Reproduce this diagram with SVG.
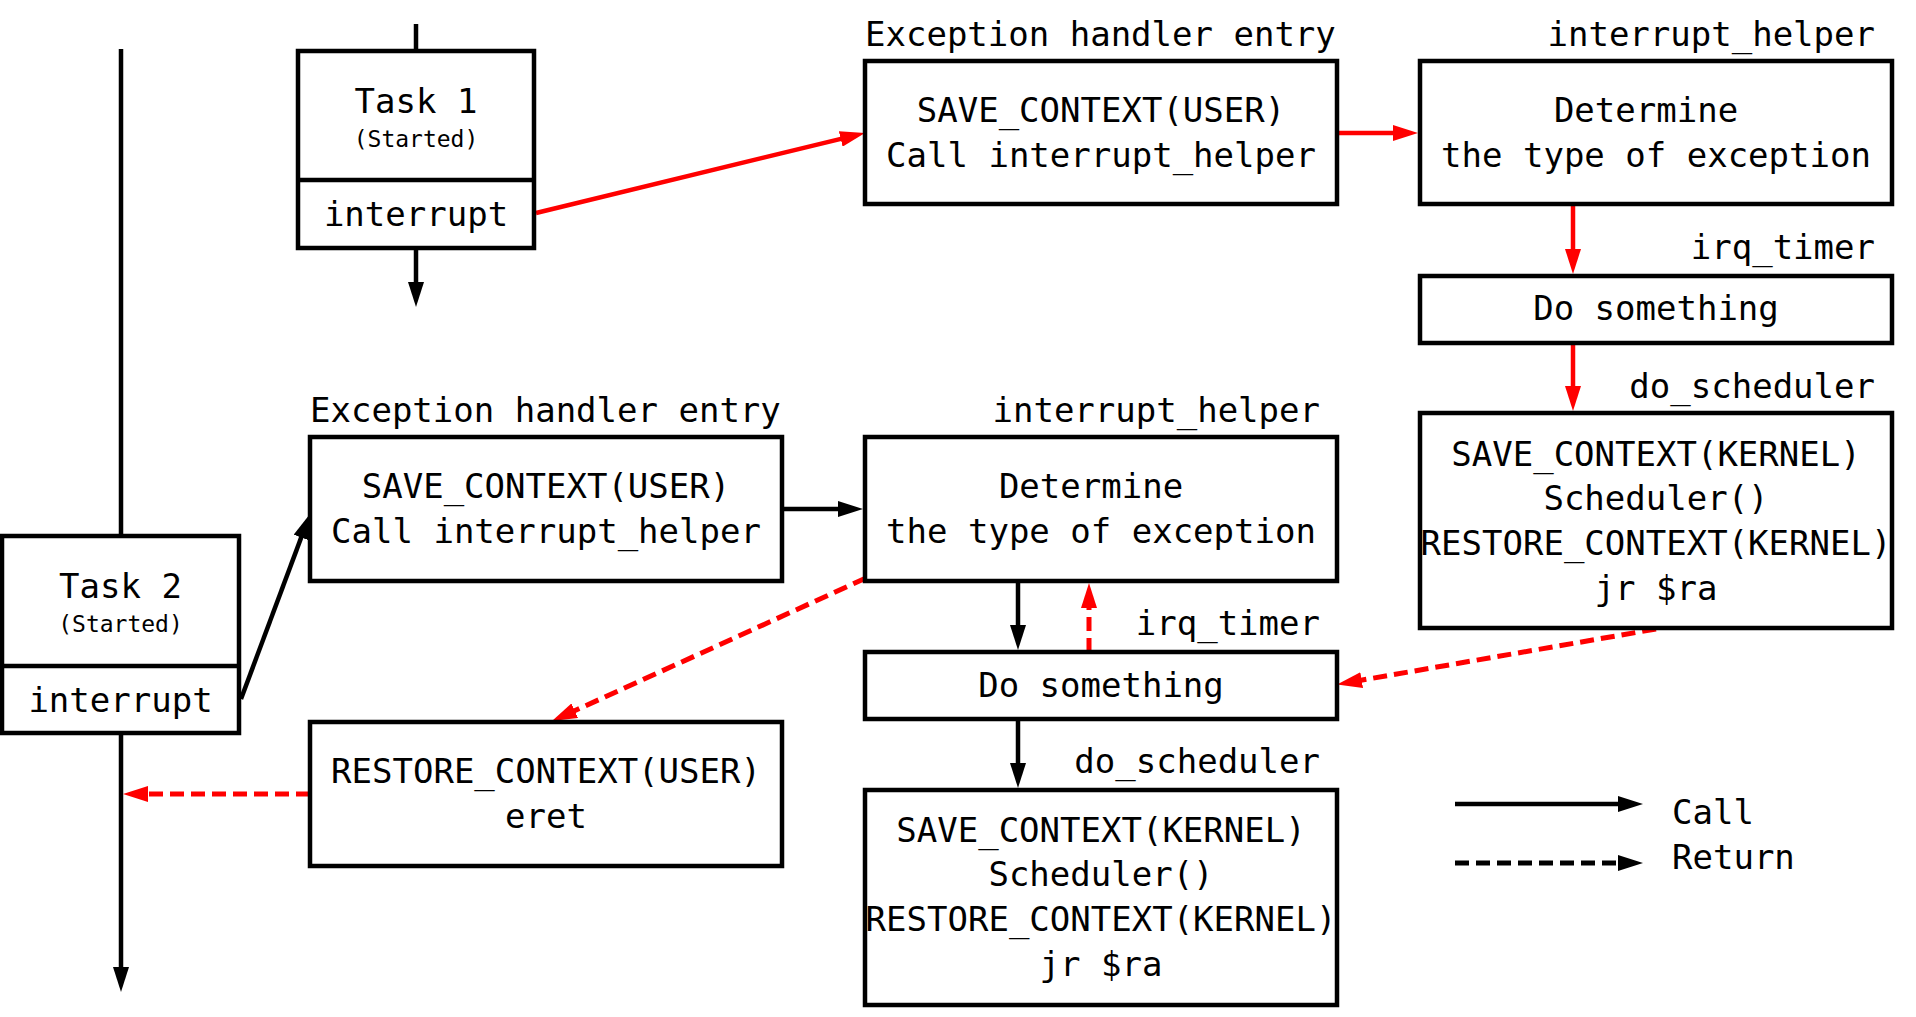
<svg xmlns="http://www.w3.org/2000/svg" width="1916" height="1017" viewBox="0 0 1916 1017">
  <style>
    .box { fill: #ffffff; stroke: #000000; stroke-width: 4.5; }
    .sep { stroke: #000000; stroke-width: 4.5; }
    text { font-family: "DejaVu Sans Mono", "Liberation Mono", monospace; font-size: 34px; fill: #000000; }
    .c { text-anchor: middle; }
    .r { text-anchor: end; }
    .small { font-size: 23px; }
    .call { fill: none; stroke: #000000; stroke-width: 4.5; }
    .call-red { fill: none; stroke: #ff0000; stroke-width: 4.5; }
    .ret { fill: none; stroke: #000000; stroke-width: 5; stroke-dasharray: 14 7; }
    .ret-red { fill: none; stroke: #ff0000; stroke-width: 5; stroke-dasharray: 14 7; }
  </style>
  <defs>
    <marker id="head-black" markerUnits="userSpaceOnUse" markerWidth="25" markerHeight="16" refX="14" refY="8" orient="auto" viewBox="0 0 25 16">
      <path d="M0,0 L25,8 L0,16 Z" fill="#000000"/>
    </marker>
    <marker id="head-red" markerUnits="userSpaceOnUse" markerWidth="25" markerHeight="16" refX="14" refY="8" orient="auto" viewBox="0 0 25 16">
      <path d="M0,0 L25,8 L0,16 Z" fill="#ff0000"/>
    </marker>
  </defs>

  <rect width="1916" height="1017" fill="#ffffff"/>

  <!-- connectors -->
  <g id="connectors">
    <!-- task 2 timeline -->
    <line class="call" x1="121" y1="49" x2="121" y2="536"/>
    <line class="call" x1="121" y1="733" x2="121" y2="981" marker-end="url(#head-black)"/>
    <!-- task 1 timeline -->
    <line class="call" x1="416" y1="24" x2="416" y2="50"/>
    <line class="call" x1="416" y1="248" x2="416" y2="296" marker-end="url(#head-black)"/>

    <!-- first interrupt (red path) -->
    <line class="call-red" x1="536" y1="213" x2="854.3" y2="135.6" marker-end="url(#head-red)"/>
    <line class="call-red" x1="1337" y1="133" x2="1407" y2="133" marker-end="url(#head-red)"/>
    <line class="call-red" x1="1573" y1="205" x2="1573" y2="263" marker-end="url(#head-red)"/>
    <line class="call-red" x1="1573" y1="343" x2="1573" y2="400" marker-end="url(#head-red)"/>
    <line class="ret-red" x1="1656" y1="629" x2="1347.9" y2="682.5" marker-end="url(#head-red)"/>
    <line class="ret-red" x1="1089" y1="652" x2="1089" y2="594" marker-end="url(#head-red)"/>
    <line class="ret-red" x1="866" y1="578" x2="562" y2="716.5" marker-end="url(#head-red)"/>
    <line class="ret-red" x1="310" y1="794" x2="134" y2="794" marker-end="url(#head-red)"/>

    <!-- second interrupt (black path) -->
    <line class="call" x1="241" y1="699" x2="306.1" y2="524.4" marker-end="url(#head-black)"/>
    <line class="call" x1="782" y1="509" x2="852" y2="509" marker-end="url(#head-black)"/>
    <line class="call" x1="1018" y1="581" x2="1018" y2="639" marker-end="url(#head-black)"/>
    <line class="call" x1="1018" y1="719" x2="1018" y2="777" marker-end="url(#head-black)"/>
  </g>

  <!-- tasks -->
  <g id="task1">
    <rect class="box" x="298" y="51" width="236" height="197"/>
    <line class="sep" x1="298" y1="180" x2="534" y2="180"/>
    <text class="c" x="416" y="113">Task 1</text>
    <text class="c small" x="416" y="147">(Started)</text>
    <text class="c" x="416" y="226">interrupt</text>
  </g>
  <g id="task2">
    <rect class="box" x="2" y="536" width="237" height="197"/>
    <line class="sep" x1="2" y1="666" x2="239" y2="666"/>
    <text class="c" x="120.5" y="598">Task 2</text>
    <text class="c small" x="120.5" y="632">(Started)</text>
    <text class="c" x="120.5" y="712">interrupt</text>
  </g>

  <!-- first interrupt handling -->
  <g id="entry1">
    <text x="865" y="46">Exception handler entry</text>
    <rect class="box" x="865" y="61" width="472" height="143"/>
    <text class="c" x="1101" y="122">SAVE_CONTEXT(USER)</text>
    <text class="c" x="1101" y="167">Call interrupt_helper</text>
  </g>
  <g id="helper1">
    <text class="r" x="1875" y="46">interrupt_helper</text>
    <rect class="box" x="1420" y="61" width="472" height="143"/>
    <text class="c" x="1646" y="122">Determine</text>
    <text class="c" x="1656" y="167">the type of exception</text>
  </g>
  <g id="timer1">
    <text class="r" x="1875" y="259">irq_timer</text>
    <rect class="box" x="1420" y="276" width="472" height="67"/>
    <text class="c" x="1656" y="320">Do something</text>
  </g>
  <g id="sched1">
    <text class="r" x="1875" y="398">do_scheduler</text>
    <rect class="box" x="1420" y="413" width="472" height="215"/>
    <text class="c" x="1656" y="466">SAVE_CONTEXT(KERNEL)</text>
    <text class="c" x="1656" y="510">Scheduler()</text>
    <text class="c" x="1656" y="555">RESTORE_CONTEXT(KERNEL)</text>
    <text class="c" x="1656" y="600">jr $ra</text>
  </g>

  <!-- second interrupt handling -->
  <g id="entry2">
    <text x="310" y="422">Exception handler entry</text>
    <rect class="box" x="310" y="437" width="472" height="144"/>
    <text class="c" x="546" y="498">SAVE_CONTEXT(USER)</text>
    <text class="c" x="546" y="543">Call interrupt_helper</text>
  </g>
  <g id="helper2">
    <text class="r" x="1320" y="422">interrupt_helper</text>
    <rect class="box" x="865" y="437" width="472" height="144"/>
    <text class="c" x="1091" y="498">Determine</text>
    <text class="c" x="1101" y="543">the type of exception</text>
  </g>
  <g id="timer2">
    <text class="r" x="1320" y="635">irq_timer</text>
    <rect class="box" x="865" y="652" width="472" height="67"/>
    <text class="c" x="1101" y="697">Do something</text>
  </g>
  <g id="sched2">
    <text class="r" x="1320" y="773">do_scheduler</text>
    <rect class="box" x="865" y="790" width="472" height="215"/>
    <text class="c" x="1101" y="842">SAVE_CONTEXT(KERNEL)</text>
    <text class="c" x="1101" y="886">Scheduler()</text>
    <text class="c" x="1101" y="931">RESTORE_CONTEXT(KERNEL)</text>
    <text class="c" x="1101" y="976">jr $ra</text>
  </g>
  <g id="restore">
    <rect class="box" x="310" y="722" width="472" height="144"/>
    <text class="c" x="546" y="783">RESTORE_CONTEXT(USER)</text>
    <text class="c" x="546" y="828">eret</text>
  </g>

  <!-- legend -->
  <g id="legend">
    <line class="call" x1="1455" y1="804" x2="1632" y2="804" marker-end="url(#head-black)"/>
    <line class="ret" x1="1455" y1="863" x2="1632" y2="863" marker-end="url(#head-black)"/>
    <text x="1672" y="824">Call</text>
    <text x="1672" y="869">Return</text>
  </g>
</svg>
